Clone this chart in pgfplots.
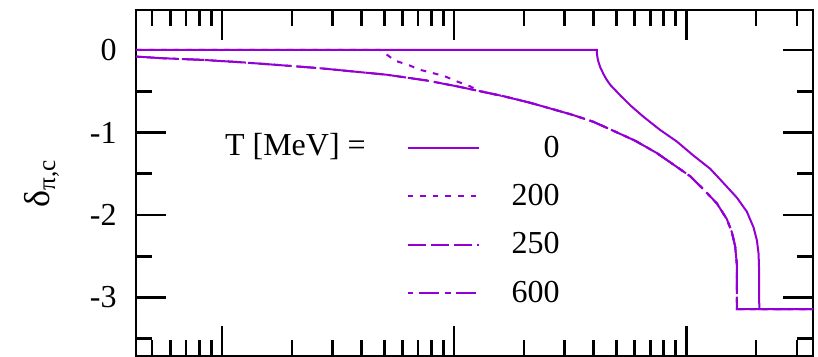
\documentclass[border=0pt]{standalone}
\usepackage{fontspec}
\setmainfont{Liberation Serif}
\usepackage{pgfplots}
\usepackage{pgfplotstable}
\pgfplotsset{compat=1.18}
\definecolor{dv}{HTML}{9400D3}
\pgfplotstableread{
x y
0.426 0
41.2 0
41.3 -0.055
41.5 -0.096
41.9 -0.146
42.7 -0.214
44.0 -0.29
45.2 -0.35
47.0 -0.42
52.0 -0.55
57.4 -0.67
65.5 -0.81
77.3 -0.97
91.2 -1.11
107.5 -1.28
126.9 -1.44
140.2 -1.57
165.4 -1.79
182.6 -1.96
195.1 -2.15
201.8 -2.31
205.1 -2.47
206.4 -2.70
206.5 -3.1416
352 -3.1416
}\tzero
\pgfplotstableread{
x y
0.426 0
4.8 0
5.04 -0.04
5.57 -0.13
6.34 -0.18
7.13 -0.24
8.11 -0.28
9.14 -0.32
10.27 -0.38
11.7 -0.44
12.94 -0.50
16.32 -0.56
21.27 -0.64
26.8 -0.72
32.7 -0.79
39.8 -0.87
48.6 -0.98
60.3 -1.10
74.8 -1.25
88.2 -1.39
104.0 -1.53
118.8 -1.69
135.6 -1.86
149.7 -2.05
157.4 -2.21
162.6 -2.38
165.4 -2.60
165.5 -3.1416
352 -3.1416
}\ttwohundred
\pgfplotstableread{
x y
0.426 -0.08
0.555 -0.10
0.826 -0.12
1.228 -0.15
1.709 -0.18
2.618 -0.22
3.66 -0.26
5.13 -0.30
7.63 -0.37
10.27 -0.44
12.94 -0.50
16.32 -0.56
21.27 -0.64
26.8 -0.72
32.7 -0.79
39.8 -0.87
48.6 -0.98
60.3 -1.10
74.8 -1.25
88.2 -1.39
104.0 -1.53
118.8 -1.69
135.6 -1.86
149.7 -2.05
157.4 -2.21
162.6 -2.38
165.4 -2.60
165.5 -3.1416
352 -3.1416
}\ttwofifty
\pgfplotstableread{
x y
0.426 -0.08
0.555 -0.10
0.826 -0.12
1.228 -0.15
1.709 -0.18
2.618 -0.22
3.66 -0.26
5.13 -0.30
7.63 -0.37
10.27 -0.44
12.94 -0.50
16.32 -0.56
21.27 -0.64
26.8 -0.72
32.7 -0.79
39.8 -0.87
48.6 -0.98
60.3 -1.10
74.8 -1.25
88.2 -1.39
104.0 -1.53
118.8 -1.69
135.6 -1.86
149.7 -2.05
157.4 -2.21
162.6 -2.38
165.4 -2.60
165.5 -3.1416
352 -3.1416
}\tsixhundred
\begin{document}
\begin{tikzpicture}
\useasboundingbox (-68pt,-0.5pt) rectangle (341pt,178pt);
\begin{axis}[
  scale only axis, width=338.5pt, height=173pt,
  xmode=log, xmin=0.426, xmax=352,
  ymin=-3.71, ymax=0.485,
  axis line style={line width=1.35pt},
  every tick/.style={black, line width=1.35pt},
  tick align=inside,
  major tick length=15pt, minor tick length=8pt,
  xtick={1,10,100}, xticklabels={},
  minor xtick={0.5,0.6,0.7,0.8,0.9,2,3,4,5,6,7,8,9,20,30,40,50,60,70,80,90,200,300},
  ytick={-3,-2,-1,0}, yticklabels={-3,-2,-1,0},
  minor ytick={-3.5,-2.5,-1.5,-0.5},
  tick label style={font=\fontsize{16}{19}\selectfont},
  yticklabel style={inner sep=0pt, xshift=-9.5pt},
  ylabel={δ\textsubscript{π,c}},
  ylabel style={at={(axis description cs:-0.139,0.5)}, anchor=center, font=\fontsize{18}{21}\selectfont},
  legend style={draw=none, fill=none, inner sep=0pt, at={(rel axis cs:0.399,0.637)}, anchor=north west,
    font=\fontsize{16}{19}\selectfont, row sep=12pt, column sep=16pt, nodes={inner sep=0pt}},
  legend cell align=right,
  legend image code/.code={\draw[#1] (0pt,0pt) -- (35.5pt,0pt);},
]
\addplot[dv, line width=1pt] table {\tzero};
\addlegendentry{0}
\addplot[dv, line width=1pt, dash pattern=on 2.8pt off 3.5pt] table {\ttwohundred};
\addlegendentry{200}
\addplot[dv, line width=1pt, dash pattern=on 9pt off 2.5pt] table {\ttwofifty};
\addlegendentry{250}
\addplot[dv, line width=1pt, dash pattern=on 2.8pt off 2.7pt on 10pt off 3.2pt] table {\tsixhundred};
\addlegendentry{600}
\node[anchor=west, inner sep=0pt, font=\fontsize{16}{19}\selectfont] at (rel axis cs:0.131,0.604) {T [MeV] =};
\end{axis}
\end{tikzpicture}
\end{document}
